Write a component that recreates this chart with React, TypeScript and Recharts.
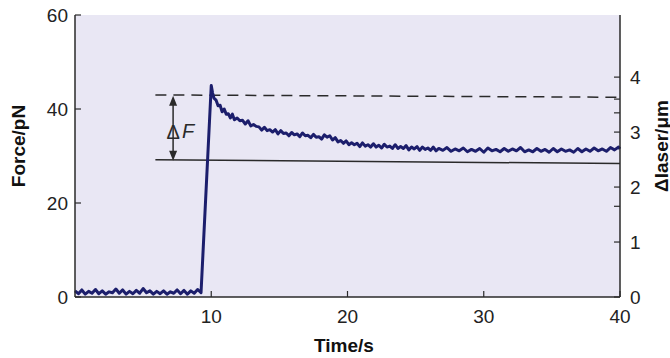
import { CartesianGrid, Line, LineChart, ReferenceLine, XAxis, YAxis } from 'recharts';

// force trace (s, pN)
const timeS = [
  0, 0.25, 0.5, 0.75, 1, 1.25, 1.5, 1.75, 2, 2.25, 2.5, 2.75, 3, 3.25, 3.5, 3.75, 4, 4.25, 4.5,
  4.75, 5, 5.25, 5.5, 5.75, 6, 6.25, 6.5, 6.75, 7, 7.25, 7.5, 7.75, 8, 8.25, 8.5, 8.75, 9, 9.25,
  10.0, 10.1, 10.2, 10.35, 10.5, 10.65, 10.8, 10.95, 11.1, 11.25, 11.4, 11.55, 11.7, 11.9,
  12.1, 12.3, 12.5, 12.7, 12.9, 13.1, 13.3, 13.5, 13.7, 13.9, 14.1, 14.3, 14.5, 14.7, 14.9,
  15.1, 15.3, 15.5, 15.7, 15.9, 16.1, 16.3, 16.5, 16.7, 16.9, 17.1, 17.3, 17.5, 17.7, 17.9,
  18.1, 18.3, 18.5, 18.7, 18.9, 19.1, 19.3, 19.5, 19.7, 19.9, 20.1, 20.3, 20.5, 20.7, 20.9,
  21.1, 21.3, 21.5, 21.7, 21.9, 22.1, 22.3, 22.5, 22.7, 22.9, 23.1, 23.3, 23.5, 23.7, 23.9,
  24.1, 24.3, 24.5, 24.7, 24.9, 25.1, 25.3, 25.5, 25.7, 25.9, 26.1, 26.3, 26.5, 26.7,
  27.0, 27.3, 27.6, 27.9, 28.2, 28.5, 28.8, 29.1, 29.4, 29.7, 30.0, 30.3, 30.6, 30.9,
  31.2, 31.5, 31.8, 32.1, 32.4, 32.7, 33.0, 33.3, 33.6, 33.9, 34.2, 34.5, 34.8, 35.1,
  35.4, 35.7, 36.0, 36.3, 36.6, 36.9, 37.2, 37.5, 37.8, 38.1, 38.4, 38.7, 39.0, 39.3,
  39.6, 39.9, 40.0,
];

const forcePN = [
  1.3, 0.7, 1.5, 0.6, 1.2, 0.8, 1.6, 0.7, 1.3, 0.6, 1.1, 0.9, 1.7, 0.8, 1.5, 0.6, 1.2, 0.7, 1.4,
  0.8, 1.8, 0.9, 1.3, 0.6, 1.2, 0.7, 1.3, 0.6, 1.1, 0.8, 1.5, 0.7, 1.4, 0.6, 1.3, 0.8, 1.6, 0.9,
  45.0, 43.4, 42.3, 41.9, 40.7, 40.8, 39.4, 40.0, 38.9, 39.0, 38.1, 38.9, 37.7, 38.1,
  37.5, 37.6, 36.8, 37.5, 36.4, 36.7, 36.3, 36.2, 35.5, 36.1, 35.4, 35.6, 35.1, 35.6, 34.7,
  35.4, 34.8, 34.9, 34.3, 35.0, 34.5, 34.7, 34.1, 34.9, 34.3, 34.4, 33.9, 34.6, 34.0, 34.1,
  33.6, 34.5, 34.0, 34.3, 33.4, 33.9, 33.0, 33.3, 32.7, 33.2, 32.4, 32.8, 32.4, 32.7, 32.0,
  32.8, 32.1, 32.4, 31.9, 32.6, 31.9, 32.3, 31.7, 32.5, 31.9, 32.1, 31.6, 32.4, 31.6, 32.0,
  31.6, 32.2, 31.3, 31.9, 31.5, 32.0, 31.2, 31.9, 31.4, 31.7, 31.2, 31.9, 31.1, 31.6,
  31.2, 31.8, 31.0, 31.5, 31.1, 31.7, 30.9, 31.4, 31.0, 31.6, 30.8, 31.7, 31.1, 31.4,
  30.9, 31.6, 31.0, 31.5, 31.1, 31.8, 30.9, 31.3, 30.9, 31.6, 31.0, 31.4, 30.8, 31.6,
  30.9, 31.5, 31.0, 31.3, 30.8, 31.6, 30.9, 31.5, 31.0, 31.7, 31.1, 31.5, 31.0, 31.8,
  31.3, 31.9, 31.5,
];

const timeTicks = [10, 20, 30, 40];
const forceTicks = [0, 20, 40, 60];
const laserTicks = [0, 1, 1.65, 2, 2.75, 3, 3.35, 3.6, 4];

// guide lines: peak level (dashed) and relaxed level (solid)
const peakLevel = [
  { x: 5.9, y: 43.0 },
  { x: 40, y: 42.5 },
];
const relaxedLevel = [
  { x: 5.9, y: 29.2 },
  { x: 40, y: 28.4 },
];
const deltaArrow = [
  { x: 7.2, y: 42.8 },
  { x: 7.2, y: 29.0 },
];

const data = timeS.map((t, i) => ({ t, force: forcePN[i] }));

const INK = '#2a2a2a';
const TRACE = '#1c1e6c';
const FONT = '"Liberation Sans", Arial, sans-serif';

const tickStyle = { fill: '#222', fontSize: 19, fontFamily: FONT };

const ArrowShape = (props: any) => {
  const { x1, y1, y2 } = props;
  const top = Math.min(y1, y2);
  const bottom = Math.max(y1, y2);
  const mid = (top + bottom) / 2 + 4;
  return (
    <g>
      <line x1={x1} y1={top + 6} x2={x1} y2={bottom - 6} stroke={INK} strokeWidth={1.5} />
      <polygon points={`${x1},${top} ${x1 - 4},${top + 10} ${x1 + 4},${top + 10}`} fill={INK} />
      <polygon points={`${x1},${bottom} ${x1 - 4},${bottom - 10} ${x1 + 4},${bottom - 10}`} fill={INK} />
      <text x={x1} y={mid} textAnchor="middle" dominantBaseline="central" fontSize={20} fontFamily={FONT} fill={INK}>
        Δ
      </text>
      <text x={x1 + 9} y={mid - 1} dominantBaseline="central" fontSize={20} fontStyle="italic" fontFamily={FONT} fill={INK}>
        F
      </text>
    </g>
  );
};

export default function App() {
  return (
    <div style={{ position: 'absolute', left: 0, top: 0, width: 670, height: 358, background: '#fff', fontFamily: FONT }}>
      <LineChart width={670} height={358} data={data} margin={{ top: 15, right: 10, bottom: 21, left: 15 }}>
        <CartesianGrid yAxisId="left" horizontal={false} vertical={false} fill="#e9e7f4" />
        <XAxis
          dataKey="t"
          type="number"
          domain={[0, 40]}
          ticks={timeTicks}
          height={40}
          tickSize={-6}
          tickMargin={19}
          tick={tickStyle}
          axisLine={{ stroke: INK, strokeWidth: 1.5 }}
          tickLine={{ stroke: INK, strokeWidth: 1.2 }}
          label={{
            content: () => (
              <text x={344} y={345} textAnchor="middle" dominantBaseline="central" fontSize={19} fontWeight="bold" fontFamily={FONT} fill="#111">
                Time/s
              </text>
            ),
          }}
        />
        <XAxis
          xAxisId="top"
          orientation="top"
          dataKey="t"
          type="number"
          domain={[0, 40]}
          ticks={[10, 20, 30]}
          height={0}
          tickSize={-6}
          tickFormatter={() => ''}
          axisLine={{ stroke: INK, strokeWidth: 1.5 }}
          tickLine={{ stroke: INK, strokeWidth: 1.2 }}
        />
        <YAxis
          yAxisId="left"
          type="number"
          domain={[0, 60]}
          ticks={forceTicks}
          width={60}
          tickSize={-6}
          tickMargin={13}
          tick={tickStyle}
          axisLine={{ stroke: INK, strokeWidth: 1.5 }}
          tickLine={{ stroke: INK, strokeWidth: 1.2 }}
          label={{
            content: () => (
              <text x={18} y={146} transform="rotate(-90, 18, 146)" textAnchor="middle" dominantBaseline="central" fontSize={19} fontWeight="bold" fontFamily={FONT} fill="#111">
                Force/pN
              </text>
            ),
          }}
        />
        <YAxis
          yAxisId="right"
          orientation="right"
          type="number"
          domain={[0, 5.13]}
          allowDataOverflow
          ticks={laserTicks}
          width={40}
          tickSize={-6}
          tickMargin={16}
          tick={tickStyle}
          tickFormatter={(v: number) => (Number.isInteger(v) ? String(v) : '')}
          axisLine={{ stroke: INK, strokeWidth: 1.5 }}
          tickLine={{ stroke: INK, strokeWidth: 1.2 }}
          label={{
            content: () => (
              <text x={661} y={146} transform="rotate(-90, 661, 146)" textAnchor="middle" dominantBaseline="central" fontSize={19} fontWeight="bold" fontFamily={FONT} fill="#111">
                Δlaser/μm
              </text>
            ),
          }}
        />
        <ReferenceLine yAxisId="left" segment={peakLevel} stroke={INK} strokeWidth={1.5} strokeDasharray="11 7" />
        <ReferenceLine yAxisId="left" segment={relaxedLevel} stroke={INK} strokeWidth={1.5} />
        <ReferenceLine yAxisId="left" segment={deltaArrow} shape={ArrowShape} />
        {/* keeps the right-hand axis bound to a series so it gets drawn */}
        <Line yAxisId="right" dataKey="force" stroke="none" dot={false} activeDot={false} isAnimationActive={false} />
        <Line
          yAxisId="left"
          dataKey="force"
          type="linear"
          stroke={TRACE}
          strokeWidth={3}
          strokeLinejoin="round"
          dot={false}
          isAnimationActive={false}
        />
      </LineChart>
    </div>
  );
}
